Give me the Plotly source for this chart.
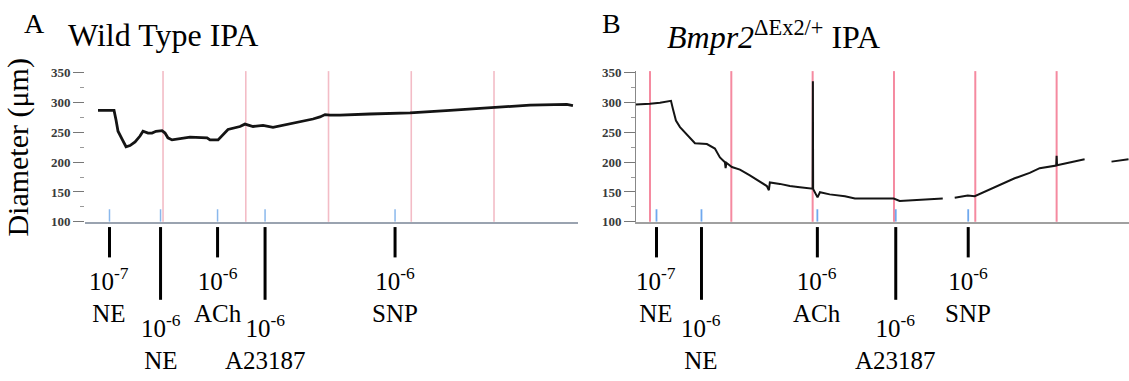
import plotly.graph_objects as go

# ---------------- data ----------------
# Panel A: Wild Type IPA (time in min, diameter in um)
time_a = [2.14, 4.08, 4.32, 4.56, 5.05, 5.53, 6.01, 6.62, 7.22, 7.58, 8.19, 8.67, 9.15,
          9.88, 10.24, 10.59, 11.09, 12.05, 13.26, 15.32, 15.68, 16.65, 17.13, 17.85,
          19.3, 19.9, 20.88, 22.09, 23.29, 24.5, 25.71, 26.92, 28.12, 28.97, 29.58,
          30.18, 31.39, 35.0, 39.85, 44.68, 50.0, 54.35, 58.8, 59.54]
diam_a = [287, 287, 271, 252, 238.7, 226, 228, 234, 244, 252, 249, 249, 252,
          253, 249, 241, 237.5, 239.7, 242, 241, 237.5, 237.5, 244, 255,
          260, 264, 260, 262, 258.6, 262, 265.5, 268, 272.6, 276, 280,
          279, 279, 281, 283, 287, 291.5, 296, 297, 295]

# Panel B: Bmpr2 dEx2/+ IPA (None = gap in recording)
time_b = [8.28, 10.0, 11.23, 12.58, 12.83, 13.19, 13.69, 14.91, 15.53, 17.0, 17.98,
          18.6, 19.21, 19.3, 19.4, 20.07, 21.06, 22.28, 23.51, 24.37, 24.62, 24.74,
          25.97, 27.2, 28.43, 30.0, 30.03, 30.06, 30.6, 30.9, 32.1, 33.97, 35.2,
          37.03, 39.97, 40.7, 43.16, 46.0, 46.7, 47.47, 49.07, 49.93, 51.77, 53.0,
          54.84, 56.69, 57.92, 59.95, 60.0, 60.05, 61.6, 63.44, 65.0, 66.75, 68.84]
diam_b = [297, 298, 300, 303, 289, 270, 259, 240, 232, 230.5, 223,
          208, 200, 190, 199, 192, 187.5, 178, 167, 160, 153, 166,
          163.6, 160, 158, 155.5, 336, 155, 141, 149.6, 146, 143, 139,
          139, 139, 135, 136.6, 139, None, 140.5, 144, 143, 154, 162,
          173, 182, 190, 194.4, 210.6, 195, 200, 205, None, 201, 205]

# vertical grid (chart-recorder marks), minutes
pink_a = [10, 20, 30, 40, 50]
pink_b = [10, 20, 30, 40, 50, 60]

# drug additions
add_a = [3.53, 9.70, 16.59, 22.33, 38.04]
add_b = [10.80, 16.33, 30.58, 40.22, 49.13]
conc = ["10<sup>-7</sup>", "10<sup>-6</sup>", "10<sup>-6</sup>", "10<sup>-6</sup>", "10<sup>-6</sup>"]
agent = ["NE", "NE", "ACh", "A23187", "SNP"]

y_ticks = [100, 150, 200, 250, 300, 350]

# ---------------- figure ----------------
W, H = 1129, 381
SERIF = "Liberation Serif"

def py(p):
    return (H - p) / H

fig = go.Figure()
fig.add_trace(go.Scatter(x=time_a, y=diam_a, mode="lines", xaxis="x", yaxis="y",
                         line=dict(color="#141414", width=2.8), showlegend=False,
                         hoverinfo="skip"))
fig.add_trace(go.Scatter(x=time_b, y=diam_b, mode="lines", xaxis="x2", yaxis="y2",
                         line=dict(color="#141414", width=2), connectgaps=False,
                         showlegend=False, hoverinfo="skip"))

ydom = [py(224), py(67.6)]
common_y = dict(range=[100, 353], domain=ydom, tickvals=y_ticks, ticks="outside",
                ticklen=11, tickwidth=1, tickcolor="#777", showgrid=False, zeroline=False,
                tickfont=dict(family=SERIF, size=13, color="#3a3a3a", weight="bold"),
                minor=dict(dtick=25, ticks="outside", ticklen=4, tickcolor="#999", tick0=100))
fig.update_layout(
    width=W, height=H, margin=dict(l=0, r=0, t=0, b=0),
    paper_bgcolor="white", plot_bgcolor="white",
    xaxis=dict(domain=[85 / W, 578 / W], range=[0.57, 60.15], showticklabels=False,
               ticks="", showgrid=False, zeroline=False, showline=True,
               linecolor="#9aa3b0", linewidth=1.5),
    yaxis=dict(anchor="x", showline=False, **common_y),
    xaxis2=dict(domain=[636 / W, 1.0], range=[8.28, 68.9], showticklabels=False,
                ticks="", showgrid=False, zeroline=False, showline=True,
                linecolor="#a0a0a0", linewidth=1.5, anchor="y2"),
    yaxis2=dict(anchor="x2", showline=True, linecolor="#888", linewidth=1, **common_y),
)

shapes = []
for t in pink_a:
    shapes.append(dict(type="line", xref="x", yref="y domain", x0=t, x1=t, y0=0, y1=1,
                       line=dict(color="#f3bcc6", width=1.6), layer="below"))
for t in pink_b:
    shapes.append(dict(type="line", xref="x2", yref="y2 domain", x0=t, x1=t, y0=0, y1=1,
                       line=dict(color="#f58aa0", width=2), layer="below"))
for t in add_a:
    shapes.append(dict(type="line", xref="x", yref="y", x0=t, x1=t, y0=100, y1=121,
                       line=dict(color="#8ab8ec", width=1.5), layer="below"))
for t in add_b:
    shapes.append(dict(type="line", xref="x2", yref="y2", x0=t, x1=t, y0=100, y1=121,
                       line=dict(color="#6fa8ee", width=1.8), layer="below"))

annotations = []
for xr, adds in (("x", add_a), ("x2", add_b)):
    for i, t in enumerate(adds):
        low = i % 2 == 1
        shapes.append(dict(type="line", xref=xr, yref="paper", x0=t, x1=t,
                           y0=py(229.5), y1=py(305 if low else 261),
                           line=dict(color="black", width=3)))
        annotations.append(dict(xref=xr, yref="paper", x=t, y=py(349 if low else 300),
                                xanchor="center", yanchor="middle", showarrow=False,
                                text=conc[i] + "<br>" + agent[i],
                                font=dict(family=SERIF, size=25, color="black")))

annotations += [
    dict(xref="paper", yref="paper", x=22 / W, y=py(18), xanchor="left", yanchor="middle",
         text="A", showarrow=False, font=dict(family=SERIF, size=28, color="black")),
    dict(xref="paper", yref="paper", x=66 / W, y=py(30), xanchor="left", yanchor="middle",
         text="Wild Type IPA", showarrow=False, font=dict(family=SERIF, size=32, color="black")),
    dict(xref="paper", yref="paper", x=600 / W, y=py(18), xanchor="left", yanchor="middle",
         text="B", showarrow=False, font=dict(family=SERIF, size=28, color="black")),
    dict(xref="paper", yref="paper", x=665 / W, y=py(30), xanchor="left", yanchor="middle",
         text="<i>Bmpr2</i><sup>ΔEx2/+</sup> IPA", showarrow=False,
         font=dict(family=SERIF, size=32, color="black")),
    dict(xref="paper", yref="paper", x=18 / W, y=py(147), xanchor="center", yanchor="middle",
         text="Diameter (μm)", textangle=-90, showarrow=False,
         font=dict(family=SERIF, size=30, color="black")),
]

fig.update_layout(shapes=shapes, annotations=annotations)
fig.write_html("out.html", config={"displayModeBar": False},
               post_script="document.body.style.margin='0';")
